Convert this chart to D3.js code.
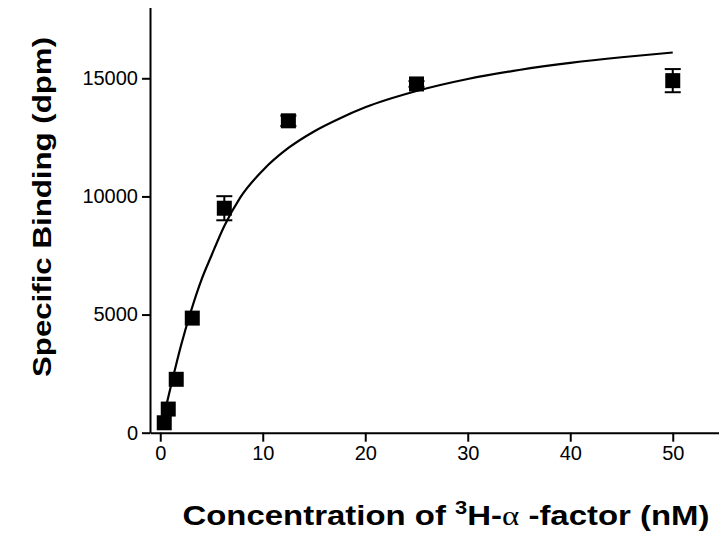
<!DOCTYPE html>
<html>
<head>
<meta charset="utf-8">
<script src="https://cdn.jsdelivr.net/npm/d3@7"></script>
<style>
  body { margin: 0; background: #fff; }
  svg { display: block; }
  .tick text { font-family: "Liberation Sans", Arial, sans-serif; font-size: 20px; fill: #000; }
  .axis path, .axis line { stroke: #000; stroke-width: 2; }
  .title { font-family: "Liberation Sans", Arial, sans-serif; font-weight: bold; fill: #000; }
</style>
</head>
<body>
<div id="chart"></div>
<script>
// concentration (nM) and specific binding (dpm)
const conc = [0.39, 0.78, 1.56, 3.125, 6.25, 12.5, 25, 50];
const binding = [420, 1000, 2260, 4850, 9500, 13200, 14760, 14900];
const errs = [0, 0, 0, 0, 510, 220, 120, 490];

// fitted saturation curve, sampled from the figure
const curveX = [0.4, 1, 2, 3, 4, 5, 6.25, 7.8, 10, 12.5, 15, 17.5, 20, 25, 30, 35, 40, 45, 50];
const curveY = [800, 1900, 3650, 5150, 6450, 7500, 8750, 9950, 11100, 12050, 12750, 13300, 13770, 14460, 14970, 15350, 15650, 15890, 16090];

const xTicks = [0, 10, 20, 30, 40, 50];
const yTicks = [0, 5000, 10000, 15000];

const width = 719, height = 546;

const svg = d3.select("#chart")
    .append("svg")
    .attr("width", width)
    .attr("height", height);

const x = d3.scaleLinear().domain([-1, 55]).range([150, 724]);
const y = d3.scaleLinear().domain([0, 18000]).range([432.7, 7.4]);

// axes
svg.append("g")
    .attr("class", "axis")
    .attr("transform", `translate(0, ${y(0)})`)
    .call(d3.axisBottom(x).tickValues(xTicks).tickSize(9).tickSizeOuter(0).tickPadding(4).tickFormat(d3.format("d")));

svg.append("g")
    .attr("class", "axis")
    .attr("transform", `translate(${x(-1)}, 0)`)
    .call(d3.axisLeft(y).tickValues(yTicks).tickSize(8).tickSizeOuter(0).tickPadding(4).tickFormat(d3.format("d")));

// curve
const line = d3.line()
    .x((d, i) => x(curveX[i]))
    .y(d => y(d))
    .curve(d3.curveMonotoneX);

svg.append("path")
    .datum(curveY)
    .attr("fill", "none")
    .attr("stroke", "#000")
    .attr("stroke-width", 2.2)
    .attr("d", line);

// error bars
const pts = conc.map((c, i) => ({ c: c, v: binding[i], e: errs[i] }));
const eb = svg.append("g").attr("stroke", "#000").attr("stroke-width", 2);
pts.filter(d => d.e > 0).forEach(d => {
    eb.append("line")
        .attr("x1", x(d.c)).attr("x2", x(d.c))
        .attr("y1", y(d.v - d.e)).attr("y2", y(d.v + d.e));
    [d.v - d.e, d.v + d.e].forEach(v => {
        eb.append("line")
            .attr("x1", x(d.c) - 8).attr("x2", x(d.c) + 8)
            .attr("y1", y(v)).attr("y2", y(v));
    });
});

// squares
const sz = 15;
svg.append("g").selectAll("rect")
    .data(pts)
    .enter().append("rect")
    .attr("x", d => x(d.c) - sz / 2)
    .attr("y", d => y(d.v) - sz / 2)
    .attr("width", sz)
    .attr("height", sz)
    .attr("fill", "#000");

// axis titles (the original lettering is wide, so stretch it a bit)
const xt = svg.append("text")
    .attr("class", "title")
    .attr("font-size", "27px")
    .attr("transform", "translate(446, 525) scale(1.22, 1)")
    .attr("text-anchor", "middle");
xt.append("tspan").text("Concentration of ");
xt.append("tspan").attr("font-size", "18px").attr("dy", -11).text("3");
xt.append("tspan").attr("dy", 11).text("H-");
xt.append("tspan").attr("font-family", "Liberation Serif, serif").attr("font-weight", "normal").text("α");
xt.append("tspan").text(" -factor (nM)");

svg.append("text")
    .attr("class", "title")
    .attr("font-size", "25px")
    .attr("transform", "translate(51, 207) rotate(-90) scale(1.25, 1)")
    .attr("text-anchor", "middle")
    .text("Specific Binding (dpm)");
</script>
</body>
</html>
